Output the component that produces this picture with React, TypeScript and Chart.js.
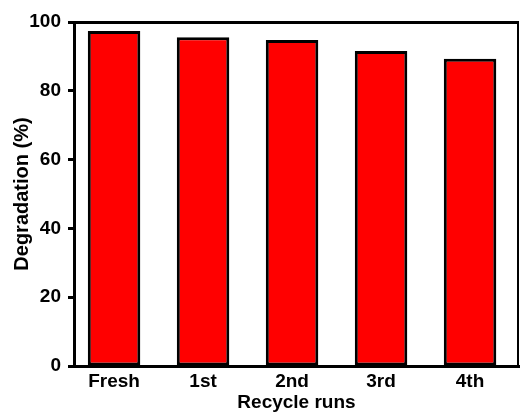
import React, { useEffect, useRef } from 'react';
import { Chart, registerables } from 'chart.js';

Chart.register(...registerables);

const categories = ['Fresh', '1st', '2nd', '3rd', '4th'];
const degradation = [97.4, 95.6, 94.8, 91.6, 89.3];
const yTicks = [0, 20, 40, 60, 80, 100];
const xTitle = 'Recycle runs';
const yTitle = 'Degradation (%)';

const FONT = "'Liberation Sans', Arial, sans-serif";

const framePlugin = {
  id: 'frame',
  afterDatasetsDraw(chart: any) {
    const { ctx, chartArea: a } = chart;
    ctx.save();
    ctx.strokeStyle = '#000';
    ctx.lineWidth = 3;
    ctx.beginPath();
    ctx.moveTo(a.left - 1.5, a.top + 0.5);
    ctx.lineTo(a.right, a.top + 0.5);
    ctx.stroke();
    ctx.lineWidth = 2;
    ctx.beginPath();
    ctx.moveTo(a.right - 1, a.top);
    ctx.lineTo(a.right - 1, a.bottom);
    ctx.stroke();
    ctx.restore();
  },
};

export default function App() {
  const ref = useRef<HTMLCanvasElement>(null);
  useEffect(() => {
    document.body.style.margin = '0';
    const chart = new Chart(ref.current!, {
      type: 'bar',
      data: {
        datasets: [
          {
            data: categories.map((_, i) => ({ x: i, y: degradation[i] })),
            backgroundColor: '#ff0000',
            borderColor: '#000',
            borderWidth: 3,
            borderSkipped: false,
            barPercentage: 0.59,
            categoryPercentage: 1,
          },
        ],
      },
      options: {
        animation: false,
        responsive: true,
        maintainAspectRatio: false,
        layout: { padding: { top: 22, right: 2, bottom: 0, left: 0 } },
        plugins: { legend: { display: false }, tooltip: { enabled: false } },
        scales: {
          x: {
            type: 'linear',
            offset: false,
            min: -0.45,
            max: 4.55,
            afterBuildTicks: (s: any) => {
              s.ticks = categories.map((_, i) => ({ value: i }));
            },
            afterFit: (s: any) => {
              s.height = 46;
            },
            grid: { display: false, drawTicks: false, offset: false },
            border: { display: true, color: '#000', width: 3 },
            ticks: {
              padding: 4,
              maxRotation: 0,
              autoSkip: false,
              color: '#000',
              font: { family: FONT, size: 19, weight: 'bold' },
              callback: (v: any) => categories[v] ?? '',
            },
            title: {
              display: true,
              text: xTitle,
              color: '#000',
              padding: { top: 0, bottom: 0 },
              font: { family: FONT, size: 19, weight: 'bold', lineHeight: 1 },
            },
          },
          y: {
            min: 0,
            max: 100,
            afterBuildTicks: (s: any) => {
              s.ticks = yTicks.map((v) => ({ value: v }));
            },
            afterFit: (s: any) => {
              s.width = 74;
            },
            grid: {
              display: true,
              drawOnChartArea: false,
              drawTicks: true,
              tickLength: 6,
              tickWidth: 3,
              tickColor: '#000',
            },
            border: { display: true, color: '#000', width: 3 },
            ticks: {
              padding: 7,
              color: '#000',
              font: { family: FONT, size: 19, weight: 'bold' },
            },
            title: {
              display: true,
              text: yTitle,
              color: '#000',
              padding: { top: 10, bottom: 0 },
              font: { family: FONT, size: 20, weight: 'bold', lineHeight: 1.2 },
            },
          },
        },
      },
      plugins: [framePlugin],
    });
    return () => chart.destroy();
  }, []);
  return (
    <div style={{ position: 'fixed', left: 0, top: 0, width: 521, height: 412, background: '#fff' }}>
      <canvas ref={ref} />
    </div>
  );
}
